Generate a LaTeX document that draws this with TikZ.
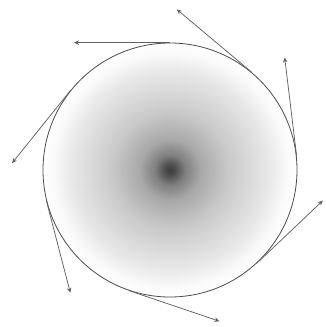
\documentclass[tikz,border=0pt]{standalone}
\usetikzlibrary{arrows.meta,calc}
\pgfdeclareradialshading{ballshade}{\pgfpoint{0bp}{0bp}}{color(0bp)=(black!76); color(1bp)=(black!70); color(3bp)=(black!50); color(6bp)=(black!34); color(11.5bp)=(black!21); color(19.5bp)=(black!9); color(23bp)=(black!2); color(25bp)=(white); color(50bp)=(white)}
\begin{document}
\begin{tikzpicture}[x=1pt,y=1pt,
  vec/.style={draw=black!62, line width=0.75pt, -{Stealth[length=5pt,width=4.5pt]}},
  ballstyle/.style={circle, minimum size=254pt, inner sep=0pt, shading=ballshade, draw=black!70, line width=0.8pt}]
\useasboundingbox (0,-327) rectangle (325,0);
\coordinate (c) at (170,-170);
\node[ballstyle] (ball) at (c) {};
\foreach \a/\l [count=\i] in {90/96, 141.2/94, 194.6/95, 251.3/96, 313.5/91, 6.9/100, 50/98} {
  \coordinate (t\i) at (ball.\a);
  \coordinate (e\i) at ($(t\i)+(\a+90:\l)$);
  \draw[vec] (t\i) -- (e\i);
}
\end{tikzpicture}
\end{document}
